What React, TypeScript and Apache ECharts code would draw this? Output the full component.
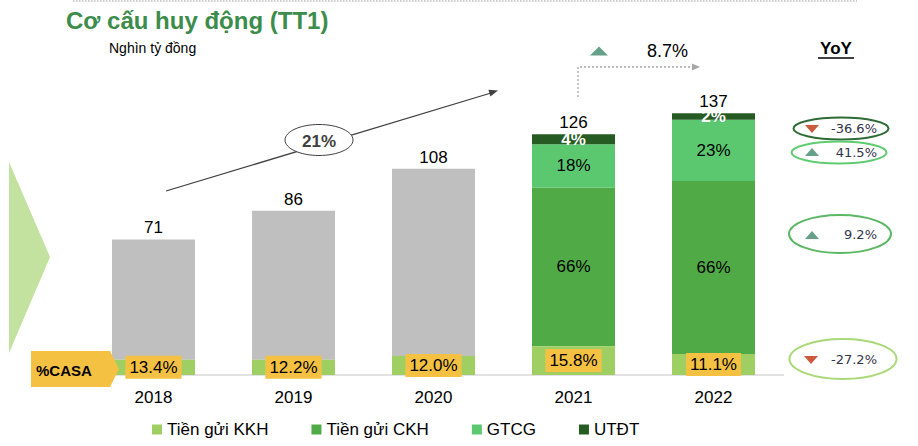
import { useEffect, useRef } from 'react';
import * as echarts from 'echarts';

const years = ['2018', '2019', '2020', '2021', '2022'];
// nghìn tỷ đồng
const kkh = [8, 8, 10, 15.1, 11.0];
const other = [63, 78, 98, null, null];
const ckh = [null, null, null, 83.0, 90.6];
const gtcg = [null, null, null, 22.7, 32.1];
const utdt = [null, null, null, 5.2, 3.3];
const totals = [71, 86, 108, 126, 137];

const casaLabels = ['13.4%', '12.2%', '12.0%', '15.8%', '11.1%'];
const ckhLabels = ['', '', '', '66%', '66%'];
const gtcgLabels = ['', '', '', '18%', '23%'];
const utdtLabels = ['', '', '', '4%', '2%'];

const yoyLabels = ['-36.6%', '41.5%', '9.2%', '-27.2%'];

const FONT = '"Liberation Sans", Arial, sans-serif';

const App = () => {
    const chartRef = useRef<HTMLDivElement>(null);

    useEffect(() => {
        if (!chartRef.current) return;
        const chart = echarts.init(chartRef.current, undefined, { renderer: 'svg' });

        const segLabel = (texts: string[], color: string, bold = false) => ({
            show: true,
            position: 'inside',
            color,
            fontSize: 17,
            fontWeight: bold ? 'bold' : 'normal',
            fontFamily: FONT,
            formatter: (p: any) => texts[p.dataIndex] || '',
        });

        const up = '#66a08a';
        const down = '#cc5a3c';
        const tri = (cx: number, cy: number, isUp: boolean, color: string, w = 7, h = 4) => ({
            type: 'polygon',
            z: 100,
            shape: {
                points: isUp
                    ? [[cx - w, cy + h], [cx + w, cy + h], [cx, cy - h]]
                    : [[cx - w, cy - h], [cx + w, cy - h], [cx, cy + h]],
            },
            style: { fill: color },
            silent: true,
        });
        const yoyText = (text: string, y: number) => ({
            type: 'text',
            x: 877,
            y,
            style: { text, fill: '#33334a', fontSize: 13, fontFamily: '"DejaVu Sans", sans-serif', align: 'right', verticalAlign: 'middle' },
        });
        const ring = (cx: number, cy: number, rx: number, ry: number, stroke: string) => ({
            type: 'ellipse',
            shape: { cx, cy, rx, ry },
            style: { fill: 'none', stroke, lineWidth: 2 },
        });

        chart.setOption({
            animation: false,
            textStyle: { fontFamily: FONT },
            grid: { left: 83.5, right: 134.5, top: 88.5, bottom: 71 },
            legend: {
                data: ['Tiền gửi KKH', 'Tiền gửi CKH', 'GTCG', 'UTĐT'],
                left: 147,
                top: 416,
                itemWidth: 10,
                itemHeight: 10,
                itemGap: 43,
                icon: 'rect',
                textStyle: { fontSize: 17, color: '#000', fontFamily: FONT },
            },
            xAxis: {
                type: 'category',
                data: years,
                axisLine: { lineStyle: { color: '#d9d9d9', width: 1.5 } },
                axisTick: { show: false },
                axisLabel: { fontSize: 17, color: '#000', margin: 14, fontFamily: FONT },
            },
            yAxis: { type: 'value', min: 0, max: 150, show: false, splitLine: { show: false } },
            series: [
                {
                    name: 'Tiền gửi KKH', type: 'bar', stack: 'a', barWidth: 83, data: kkh,
                    itemStyle: { color: '#9fcf63' },
                    label: {
                        show: true, position: 'inside', color: '#000', fontSize: 17, fontFamily: FONT,
                        backgroundColor: '#f5c143', padding: [3, 4, 3, 4],
                        formatter: (p: any) => casaLabels[p.dataIndex],
                    },
                    z: 3,
                },
                { name: 'Khác', type: 'bar', stack: 'a', barWidth: 83, data: other, itemStyle: { color: '#bfbfbf' }, z: 2 },
                { name: 'Tiền gửi CKH', type: 'bar', stack: 'a', barWidth: 83, data: ckh, itemStyle: { color: '#50ab46' }, label: segLabel(ckhLabels, '#000'), z: 2 },
                { name: 'GTCG', type: 'bar', stack: 'a', barWidth: 83, data: gtcg, itemStyle: { color: '#5bc870' }, label: segLabel(gtcgLabels, '#000'), z: 2 },
                { name: 'UTĐT', type: 'bar', stack: 'a', barWidth: 83, data: utdt, itemStyle: { color: '#265c23' }, label: segLabel(utdtLabels, '#fff', true), z: 2 },
                {
                    // zero-height cap on each stack, carries the total label
                    name: 'Tổng', type: 'bar', stack: 'a', barWidth: 83, data: totals.map(() => 0),
                    itemStyle: { color: 'rgba(0,0,0,0)' },
                    label: {
                        show: true, position: 'top', distance: 3, color: '#000', fontSize: 17, fontFamily: FONT,
                        formatter: (p: any) => String(totals[p.dataIndex]),
                    },
                    silent: true,
                    z: 5,
                },
            ],
            graphic: [
                // top dotted rule
                { type: 'line', shape: { x1: 73, y1: 1, x2: 857, y2: 1 }, style: { stroke: '#bdbdbd', lineWidth: 1.5, lineDash: [1.5, 1.5] } },
                {
                    type: 'text', x: 66, y: 20,
                    style: { text: 'Cơ cấu huy động (TT1)', fill: '#3c8c4b', fontSize: 24, fontWeight: 'bold', fontFamily: FONT, verticalAlign: 'middle' },
                },
                {
                    type: 'text', x: 109, y: 48,
                    style: { text: 'Nghìn tỷ đồng', fill: '#000', fontSize: 14, fontFamily: FONT, verticalAlign: 'middle' },
                },
                // left chevron
                { type: 'polygon', shape: { points: [[9, 162], [50, 257], [9, 353]] }, style: { fill: '#c3e19f' }, silent: true },
                // %CASA tag
                { type: 'polygon', z: 100, shape: { points: [[31, 351], [110, 351], [119, 369], [110, 387], [31, 387]] }, style: { fill: '#f5c143' }, silent: true },
                {
                    type: 'text', x: 36, y: 370, z: 101,
                    style: { text: '%CASA', fill: '#000', fontSize: 15, fontWeight: 'bold', fontFamily: FONT, verticalAlign: 'middle' },
                },
                // growth arrow
                { type: 'line', shape: { x1: 166, y1: 191, x2: 491, y2: 93 }, style: { stroke: '#404040', lineWidth: 1.3 } },
                { type: 'polygon', shape: { points: [[498, 90.5], [490.4, 96.6], [488.4, 89.8]] }, style: { fill: '#404040' } },
                { type: 'ellipse', shape: { cx: 319, cy: 140, rx: 34, ry: 15.5 }, style: { fill: '#fff', stroke: '#404040', lineWidth: 1 } },
                {
                    type: 'text', x: 319, y: 141,
                    style: { text: '21%', fill: '#404040', fontSize: 17, fontWeight: 'bold', fontFamily: FONT, align: 'center', verticalAlign: 'middle' },
                },
                // 8.7% elbow arrow
                { type: 'polyline', shape: { points: [[578, 97], [578, 67], [693, 67]] }, style: { stroke: '#a6a6a6', lineWidth: 1.3, lineDash: [2, 2], fill: 'none' } },
                { type: 'polygon', shape: { points: [[700, 67], [692, 63.5], [692, 70.5]] }, style: { fill: '#a6a6a6' } },
                tri(599, 51, true, up, 9, 4.5),
                {
                    type: 'text', x: 647, y: 51,
                    style: { text: '8.7%', fill: '#000', fontSize: 18, fontFamily: FONT, verticalAlign: 'middle' },
                },
                // YoY header
                {
                    type: 'text', x: 836, y: 48,
                    style: { text: 'YoY', fill: '#000', fontSize: 17, fontWeight: 'bold', fontFamily: FONT, align: 'center', verticalAlign: 'middle' },
                },
                { type: 'line', shape: { x1: 818, y1: 58, x2: 854, y2: 58 }, style: { stroke: '#000', lineWidth: 1.5 } },
                // YoY bubbles
                ring(841, 128.5, 47.5, 11, '#2f6b35'),
                tri(812, 129, false, down),
                yoyText(yoyLabels[0], 128.5),
                ring(839, 152.5, 47.5, 11, '#5fcc72'),
                tri(812, 152, true, up),
                yoyText(yoyLabels[1], 152.5),
                ring(840, 234, 51, 19, '#5cb865'),
                tri(812, 235, true, up),
                yoyText(yoyLabels[2], 234),
                ring(843, 359, 53.5, 20, '#a8d878'),
                tri(811, 360, false, down),
                yoyText(yoyLabels[3], 359),
            ],
        });

        return () => chart.dispose();
    }, []);

    return (
        <div
            ref={chartRef}
            style={{ position: 'fixed', left: 0, top: 0, width: 918, height: 446, background: '#fff' }}
        />
    );
};

export default App;
